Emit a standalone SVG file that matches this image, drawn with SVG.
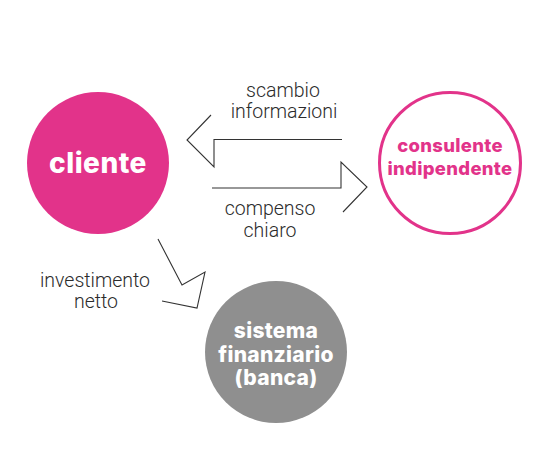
<svg xmlns="http://www.w3.org/2000/svg" width="543" height="467" viewBox="0 0 543 467">
<style>
.lbl{font-family:Roboto,"Liberation Sans",sans-serif;font-weight:300;font-size:19.5px;fill:#2b2b2b;text-anchor:middle}
.node{font-family:Inter,"Liberation Sans",sans-serif;font-weight:800;text-anchor:middle}
.conn{fill:none;stroke:#333;stroke-width:1.1;stroke-linejoin:miter}
</style>
<rect width="543" height="467" fill="#fff"/>
<g id="cliente">
<circle cx="98" cy="163" r="71" fill="#e2338a"/>
<text class="node" x="98" y="173" font-size="28" fill="#fff" letter-spacing="0.5">cliente</text>
</g>
<g id="consulente">
<circle cx="450" cy="163" r="70.5" fill="#fff" stroke="#e2338a" stroke-width="3"/>
<text class="node" x="450" y="152" font-size="18.5" fill="#e2338a" letter-spacing="0.3">consulente</text>
<text class="node" x="450" y="175" font-size="18.5" fill="#e2338a" letter-spacing="0.3">indipendente</text>
</g>
<g id="sistema">
<circle cx="276" cy="352" r="71" fill="#8f8f8f"/>
<text class="node" x="276" y="338" font-size="21" fill="#fff" letter-spacing="0.3">sistema</text>
<text class="node" x="276" y="362" font-size="21" fill="#fff" letter-spacing="0.3">finanziario</text>
<text class="node" x="276" y="385" font-size="21" fill="#fff" letter-spacing="0.3">(banca)</text>
</g>
<g id="connectors">
<polyline class="conn" points="211,115 187,140 214,167 214,139.5 342,139.5"/>
<polyline class="conn" points="212,188 341,188 341,162 367,187 343,212"/>
<polyline class="conn" points="158,239 182,285 205,272 197,308 162,301"/>
</g>
<g id="labels">
<text class="lbl" x="283" y="97">scambio</text>
<text class="lbl" x="284" y="118">informazioni</text>
<text class="lbl" x="270" y="215">compenso</text>
<text class="lbl" x="270" y="237">chiaro</text>
<text class="lbl" x="95" y="287">investimento</text>
<text class="lbl" x="96" y="308">netto</text>
</g>
</svg>
